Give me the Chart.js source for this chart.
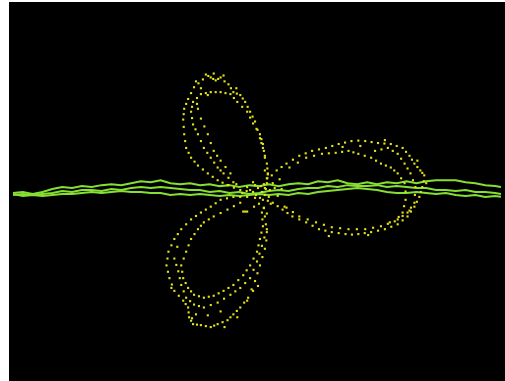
<!DOCTYPE html>
<html>
<head>
<meta charset="utf-8">
<script src="https://cdn.jsdelivr.net/npm/chart.js@4/dist/chart.umd.min.js"></script>
<style>
  html, body { margin: 0; padding: 0; background: #ffffff; overflow: hidden; }
  #wrap { position: absolute; left: 9px; top: 2px; width: 496px; height: 379px; background: #000000; }
</style>
</head>
<body>
<div id="wrap"><canvas id="c"></canvas></div>
<script>
// Rose curve samples (x, y), grouped by petal
const upperPetal = [
  [-6.0,11.5],[-5.7,12.0],[-5.2,11.7],[-4.7,11.4],[-4.2,11.7],[-3.4,11.0],[-2.9,10.2],[-2.2,9.9],[-1.7,9.2],
  [-1.2,8.2],[-0.7,7.2],[-0.2,5.5],[0.1,4.5],[0.5,2.9],[0.6,1.9],[0.5,0.9],
  [-6.9,10.7],[-7.5,9.5],[-7.9,8.5],[-8.0,7.4],[-7.9,5.9],[-7.7,4.5],[-7.2,3.5],[-6.5,2.7],[-5.5,1.9],
  [-4.5,1.2],[-3.5,0.7],[-2.2,0.2],[-0.9,0.0],
  [-6.2,10.0],[-5.2,10.2],[-4.2,10.2],[-3.2,10.0],[-2.5,9.2],[-1.5,8.2],[-0.9,7.0],[-0.2,5.9],[0.1,4.9],[0.3,3.5],
  [-7.0,9.2],[-7.2,8.2],[-7.0,6.9],[-6.5,5.9],[-5.9,4.5],[-5.2,3.5],[-4.5,2.5],[-3.9,1.9],[-2.9,1.0],
  [-6.2,7.5],[-5.5,5.9],[-4.9,4.2],[-4.2,3.2],[-3.2,1.9],
  [-5.45,11.85],[-4.95,11.55],[-4.45,11.55],[-3.8,11.3],[-3.15,10.6],[-2.55,10.05],[-1.95,9.55],[-1.45,8.7],
  [-0.95,7.7],[-0.45,6.35],[-0.05,5.0],[0.3,3.7],[0.55,2.4],[0.55,1.4],[0.3,0.4],
  [-6.45,11.1],[-7.2,10.1],[-7.7,9.0],[-7.95,7.95],[-7.95,6.65],[-7.8,5.2],[-7.45,4.0],[-6.85,3.1],[-6.0,2.3],
  [-5.0,1.55],[-4.0,0.95],[-2.85,0.45],[-1.55,0.1],
  [-5.7,10.1],[-4.7,10.2],[-3.7,10.1],[-2.85,9.6],[-2.0,8.7],[-1.2,7.6],[-0.55,6.45],[-0.05,5.4],[0.2,4.2],
  [-6.6,9.6],[-7.1,8.7],[-7.1,7.55],[-6.75,6.4],[-6.2,5.2],[-5.55,4.0],[-4.85,3.0],[-4.2,2.2],[-3.4,1.45],
  [-6.5,8.5],[-5.85,6.7],[-5.2,5.0],[-4.55,3.7],[-3.7,2.55],[-6.6,9.0],
  [-6.7,11.3],[-4.9,12.1],[-3.9,11.9],[-6.2,10.6],[-5.5,9.9],[-2.6,10.6]
];
const rightPetal = [
  [1.5,2.2],[2.5,2.9],[3.8,3.7],[5.1,4.2],[6.5,4.5],[7.8,4.9],[9.1,5.2],[10.5,5.2],[11.8,5.0],[13.1,4.9],
  [14.3,4.5],[15.0,3.7],[15.5,2.9],[16.1,2.2],[16.5,1.7],[16.3,0.5],[16.0,-0.5],[15.5,-1.5],[14.8,-2.5],
  [13.8,-3.3],[12.5,-3.8],[11.1,-4.1],[9.8,-4.3],[8.5,-4.3],[7.1,-4.1],[5.8,-3.8],[4.5,-3.1],[3.1,-2.5],
  [2.1,-1.8],[1.1,-1.1],
  [2.8,2.5],[4.5,3.5],[6.1,3.9],[7.5,4.0],[8.8,4.2],[9.8,3.9],[11.1,3.5],[12.1,2.9],[13.1,2.5],[13.8,1.9],
  [14.5,0.9],[14.6,-0.8],[14.3,-2.1],[13.5,-3.0],[12.1,-3.5],[10.5,-3.8],[8.8,-3.8],[7.1,-3.6],[5.5,-3.1],
  [3.8,-2.5],[2.5,-1.6],
  [11.5,4.2],[12.8,4.5],[13.8,3.9],[14.5,2.9],[15.1,1.9],[15.6,0.5],[15.5,-1.1],[14.8,-2.1],[13.8,-2.8],
  [2.0,2.55],[3.15,3.3],[4.45,3.95],[5.8,4.35],[7.15,4.7],[8.45,5.05],[9.8,5.25],[11.15,5.1],[12.45,4.95],
  [13.7,4.7],[14.65,4.1],[15.25,3.3],[15.8,2.55],[16.3,1.95],[16.45,1.1],[16.15,0.0],[15.75,-1.0],[15.15,-2.0],
  [14.3,-2.9],[13.15,-3.55],[11.8,-3.95],[10.45,-4.2],[9.15,-4.35],[7.8,-4.2],[6.45,-3.95],[5.15,-3.45],
  [3.8,-2.8],[2.6,-2.15],[1.6,-1.45],
  [3.65,3.0],[5.3,3.7],[6.8,3.95],[8.15,4.1],[9.3,4.05],[10.45,3.7],[11.6,3.2],[12.6,2.7],[13.45,2.2],
  [14.15,1.4],[14.6,0.05],[14.45,-1.45],[13.9,-2.55],[12.8,-3.25],[11.3,-3.65],[9.65,-3.8],[7.95,-3.7],
  [6.3,-3.35],[4.65,-2.8],[3.15,-2.05],
  [12.15,4.35],[13.3,4.2],[14.15,3.4],[14.8,2.4],[15.35,1.2],[15.55,-0.3],[15.15,-1.6],[14.3,-2.45],[13.0,-3.1],
  [10.0,4.7],[8.2,4.6],[12.5,5.3],[15.8,3.2],[16.7,0.9],[15.0,-1.9],[10.8,-4.4],[6.8,-4.5]
];
const lowerPetal = [
  [0.1,-0.8],[0.3,-2.5],[0.5,-4.1],[0.3,-5.8],[-0.2,-7.5],[-0.7,-9.1],[-1.4,-10.8],[-2.2,-11.8],[-2.9,-12.5],
  [-3.5,-13.1],[-4.5,-13.5],[-5.2,-13.8],[-6.2,-13.6],[-7.0,-13.5],[-7.4,-12.8],[-7.5,-11.8],[-8.0,-11.1],
  [-8.9,-10.1],[-9.4,-8.8],[-9.7,-7.5],[-9.5,-6.1],[-8.9,-4.8],[-8.2,-3.8],[-7.2,-2.8],[-6.2,-2.1],
  [-5.2,-1.5],[-4.2,-0.8],[-2.9,-0.5],[-1.5,-0.5],
  [-8.2,-7.5],[-8.0,-8.8],[-7.5,-9.8],[-6.9,-10.5],[-5.9,-10.8],[-4.9,-10.6],[-3.9,-10.1],[-2.9,-9.5],
  [-1.9,-8.5],[-1.2,-7.5],[-0.5,-6.1],[-0.2,-4.8],[0.1,-3.5],[0.0,-2.1],
  [-7.7,-6.1],[-7.2,-4.8],[-6.5,-3.8],[-5.9,-3.1],[-4.9,-2.5],[-3.5,-1.8],[-2.2,-1.1],
  [-8.9,-6.8],[-8.5,-8.1],[-8.2,-9.5],[-7.7,-10.8],[-6.9,-11.5],[-5.9,-11.8],[-4.5,-11.3],[-3.2,-10.5],
  [-2.2,-9.8],[-1.2,-8.8],[-0.5,-7.1],[0.0,-5.5],[0.5,-3.8],
  [-1.5,-11.1],[-0.9,-10.1],[-6.7,-12.5],
  [0.2,-1.65],[0.4,-3.3],[0.45,-4.95],[0.05,-6.65],[-0.45,-8.3],[-1.05,-9.95],[-1.8,-11.3],[-2.55,-12.15],
  [-3.2,-12.8],[-4.0,-13.3],[-4.85,-13.65],[-5.7,-13.7],[-6.6,-13.55],[-7.2,-13.15],[-7.45,-12.3],[-7.75,-11.45],
  [-8.45,-10.6],[-9.15,-9.45],[-9.55,-8.15],[-9.6,-6.8],[-9.2,-5.45],[-8.55,-4.3],[-7.7,-3.3],[-6.7,-2.45],
  [-5.7,-1.8],[-4.7,-1.15],[-3.55,-0.65],[-2.2,-0.5],[-0.7,-0.6],
  [-8.1,-8.15],[-7.75,-9.3],[-7.2,-10.15],[-6.4,-10.65],[-5.4,-10.7],[-4.4,-10.35],[-3.4,-9.8],[-2.4,-9.0],
  [-1.55,-8.0],[-0.85,-6.8],[-0.35,-5.45],[-0.05,-4.15],[0.05,-2.8],[-7.95,-6.8],[-7.45,-5.45],[-6.85,-4.3],
  [-6.2,-3.45],[-5.4,-2.8],[-4.2,-2.15],[-2.85,-1.45],
  [-8.7,-7.45],[-8.35,-8.8],[-7.95,-10.15],[-7.3,-11.15],[-6.4,-11.65],[-5.2,-11.55],[-3.85,-10.9],[-2.7,-10.15],
  [-1.7,-9.3],[-0.85,-7.95],[-0.25,-6.3],[0.25,-4.65],
  [-5.5,-12.6],[-4.2,-12.2],[-7.1,-12.9],[-9.2,-9.8],[-8.6,-5.6],[-2.5,-12.8],[-3.8,-13.8],[-0.4,-9.6]
];
const centerCluster = [
  [0.0,0.0],[-0.4,0.4],[0.3,-0.3],[-0.7,0.7],[0.8,0.2],[-0.2,-0.6],[0.5,1.4],[-1.2,0.2],[-1.7,-2.0],
  [1.1,0.9],[2.3,-1.5],[-3.4,0.7],[1.0,1.7],[0.2,0.8],[-0.3,-1.2],[0.6,-0.9],
  [0.4,0.3],[-0.1,0.6],[0.7,-0.5],[-0.6,-0.3],[1.3,0.4],[-0.9,1.0],[0.2,-1.6],[-1.5,0.5],[0.9,-1.2],
  [-2.0,-0.1],[1.6,-0.4],[0.3,2.2],[0.5,-2.2],[-0.8,-1.5],[1.8,1.3],[-2.6,0.8],[2.0,0.3],[-1.9,-2.0],
  [-1.5,-2.0],[0.6,1.8]
];

// Noisy horizontal traces
const lineX = [-25.3,-24.3,-23.3,-22.3,-21.3,-20.3,-19.3,-18.3,-17.3,-16.3,-15.3,-14.3,-13.3,-12.3,-11.3,-10.3,
  -9.3,-8.3,-7.3,-6.3,-5.3,-4.3,-3.3,-2.3,-1.3,-0.3,0.7,1.7,2.7,3.7,4.7,5.7,6.7,7.7,8.7,9.7,10.7,11.7,12.7,
  13.7,14.7,15.7,16.7,17.7,18.7,19.7,20.7,21.7,22.7,23.7,24.3];
const trace1 = [-0.1,0.0,-0.2,0.0,0.3,0.5,0.4,0.6,0.5,0.7,0.8,0.7,0.9,1.1,1.0,1.2,0.9,0.8,0.9,0.7,0.8,0.6,0.7,
  0.5,0.7,0.6,0.8,0.6,0.8,0.9,0.8,1.1,1.0,1.2,0.9,0.8,1.0,0.8,1.0,0.9,1.1,0.9,1.1,1.2,1.2,1.2,1.0,0.9,0.7,0.6,0.5];
const trace2 = [-0.3,-0.2,-0.3,-0.2,-0.1,0.1,0.0,0.2,0.2,0.1,0.3,0.2,0.4,0.5,0.4,0.5,0.4,0.3,0.2,0.2,0.0,0.1,-0.1,
  0.0,-0.2,-0.1,0.1,0.2,0.1,0.3,0.4,0.4,0.6,0.5,0.7,0.6,0.6,0.7,0.5,0.6,0.5,0.4,0.4,0.2,0.2,0.1,0.2,0.0,0.0,-0.1,-0.2];
const trace3 = [-0.2,-0.4,-0.3,-0.4,-0.3,-0.2,-0.2,-0.1,0.0,-0.1,0.0,0.1,0.0,0.0,-0.1,-0.1,-0.3,-0.2,-0.3,-0.2,-0.3,
  -0.4,-0.3,-0.4,-0.3,-0.2,-0.3,-0.2,-0.3,-0.1,-0.2,0.0,0.1,0.2,0.3,0.4,0.3,0.2,0.0,-0.1,-0.1,0.0,-0.1,-0.2,-0.1,
  -0.3,-0.4,-0.3,-0.5,-0.4,-0.5];

const toPts = arr => arr.map(p => ({x: p[0], y: p[1]}));
const linePts = ys => lineX.map((x, i) => ({x: x, y: ys[i]}));

const dotColor = '#e2e21c';
const lineColor = '#86e032';

new Chart(document.getElementById('c'), {
  type: 'scatter',
  data: {
    datasets: [
      { data: toPts(upperPetal.concat(rightPetal, lowerPetal, centerCluster)), showLine: false,
        pointStyle: 'rect', pointRadius: 1.5, pointBackgroundColor: dotColor, pointBorderWidth: 0 },
      { data: linePts(trace1), showLine: true, borderColor: lineColor, borderWidth: 2, pointRadius: 0, tension: 0 },
      { data: linePts(trace2), showLine: true, borderColor: lineColor, borderWidth: 2, pointRadius: 0, tension: 0 },
      { data: linePts(trace3), showLine: true, borderColor: lineColor, borderWidth: 2, pointRadius: 0, tension: 0 }
    ]
  },
  options: {
    responsive: true,
    maintainAspectRatio: false,
    animation: false,
    layout: { padding: 0 },
    plugins: { legend: { display: false }, tooltip: { enabled: false } },
    scales: {
      x: { type: 'linear', display: false, min: -25.3, max: 24.3 },
      y: { type: 'linear', display: false, min: -18.9, max: 19.0 }
    }
  }
});
</script>
</body>
</html>
